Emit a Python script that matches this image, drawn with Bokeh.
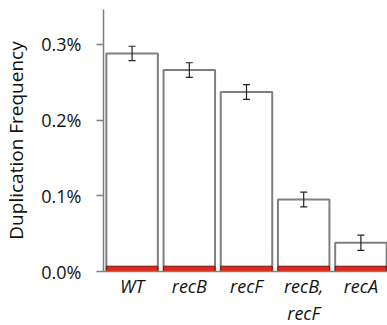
from bokeh.plotting import figure
from bokeh.models import FactorRange, Range1d, FixedTicker, NumeralTickFormatter, Whisker, ColumnDataSource, TeeHead
from bokeh.embed import file_html
from bokeh.resources import INLINE

strains = ["WT", "recB", "recF", "recB,\nrecF", "recA"]
dup_freq = [0.00288, 0.00266, 0.00237, 0.00095, 0.00038]
dup_err = [0.000095, 0.000097, 0.000097, 0.000097, 0.0001]
red_freq = [0.00007, 0.00007, 0.00007, 0.00007, 0.00007]
y_ticks = [0.0, 0.001, 0.002, 0.003]

src = ColumnDataSource(dict(
    x=strains, top=dup_freq, red=red_freq,
    upper=[v + e for v, e in zip(dup_freq, dup_err)],
    lower=[v - e for v, e in zip(dup_freq, dup_err)],
))

p = figure(frame_width=286, frame_height=262, x_range=FactorRange(*strains, range_padding=0),
           y_range=Range1d(0, 0.00346), output_backend="svg", toolbar_location=None,
           min_border_left=93, min_border_right=0, min_border_top=9, min_border_bottom=0)
p.outline_line_color = None
p.grid.visible = False

p.vbar(x="x", top="top", width=0.9, source=src, fill_color="white",
       line_color="#7f7f7f", line_width=2)
p.vbar(x="x", top="red", width=0.9, source=src, fill_color="#ee2010",
       line_color="#6a1a12", line_width=1)
w = Whisker(base="x", upper="upper", lower="lower", source=src, level="overlay",
            line_color="#222222", line_width=1.2,
            upper_head=TeeHead(size=7, line_color="#222222", line_width=1.2),
            lower_head=TeeHead(size=7, line_color="#222222", line_width=1.2))
p.add_layout(w)

ya = p.yaxis[0]
ya.ticker = FixedTicker(ticks=y_ticks)
ya.formatter = NumeralTickFormatter(format="0.0%")
ya.axis_line_color = "#7f7f7f"
ya.axis_line_width = 1.5
ya.major_tick_line_color = "#7f7f7f"
ya.major_tick_line_width = 1.5
ya.major_tick_out = 7
ya.major_tick_in = 0
ya.minor_tick_line_color = None
ya.major_label_standoff = 15
ya.major_label_text_font = "Open Sans"
ya.major_label_text_font_size = "18px"
ya.major_label_text_color = "#111111"
ya.axis_label = "Duplication Frequency"
ya.axis_label_text_font = "Open Sans"
ya.axis_label_text_font_size = "19px"
ya.axis_label_text_font_style = "normal"
ya.axis_label_text_color = "#111111"
ya.axis_label_standoff = 9

xa = p.xaxis[0]
xa.axis_line_color = "#7f7f7f"
xa.axis_line_width = 1.5
xa.major_tick_line_color = None
xa.minor_tick_line_color = None
xa.major_tick_out = 0
xa.major_tick_in = 0
xa.major_label_standoff = 2
xa.major_label_text_font = "Open Sans"
xa.major_label_text_font_size = "18px"
xa.major_label_text_font_style = "italic"
xa.major_label_text_color = "#111111"
xa.major_label_text_line_height = 1.15

open("out.html", "w").write(file_html(p, INLINE))
